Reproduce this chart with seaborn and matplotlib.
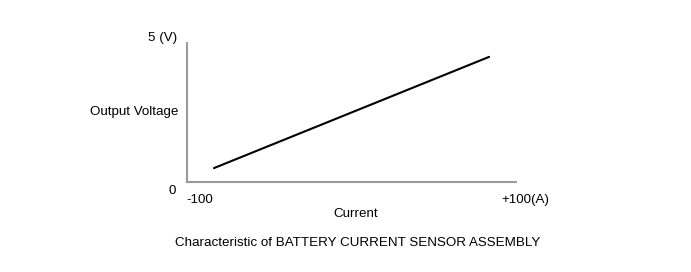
import matplotlib
matplotlib.use("Agg")
import matplotlib.pyplot as plt
import seaborn as sns
import pandas as pd

current = [-100, 100]
voltage = [0.5, 4.5]
title = "Characteristic of BATTERY CURRENT SENSOR ASSEMBLY"
xlabel = "Current"
ylabel = "Output Voltage"
y_top_label = "5 (V)"
y_bot_label = "0"
x_left_label = "-100"
x_right_label = "+100(A)"

sns.set_style("white")
plt.rcParams['font.family'] = ['Liberation Sans', 'DejaVu Sans']

W, H = 691, 272
fig = plt.figure(figsize=(W / 100, H / 100), dpi=100)
ax = fig.add_axes([187 / W, 90 / H, (516 - 187) / W, (229 - 90) / H])

df = pd.DataFrame({"Current": current, "Voltage": voltage})
sns.lineplot(data=df, x="Current", y="Voltage", ax=ax, color="black", linewidth=1.5)

ax.set_xlim(-119.6, 119.6)
ax.set_ylim(0, 5)
ax.set_xticks([])
ax.set_yticks([])
ax.set_xlabel("")
ax.set_ylabel("")
for s in ["top", "right"]:
    ax.spines[s].set_visible(False)
for s in ["left", "bottom"]:
    ax.spines[s].set_color("#9a9a9a")
    ax.spines[s].set_linewidth(1.5)

fs = 9.6
def px(x, y, s, ha="center"):
    fig.text(x / W, 1 - y / H, s, ha=ha, va="center", fontsize=fs, color="black")

px(163, 38, y_top_label)
px(172, 191, y_bot_label)
px(134, 112, ylabel)
px(200, 200, x_left_label)
px(525, 200, x_right_label)
px(356, 214, xlabel)
px(358, 243, title)

fig.savefig("out.png", dpi=100, facecolor="white")
